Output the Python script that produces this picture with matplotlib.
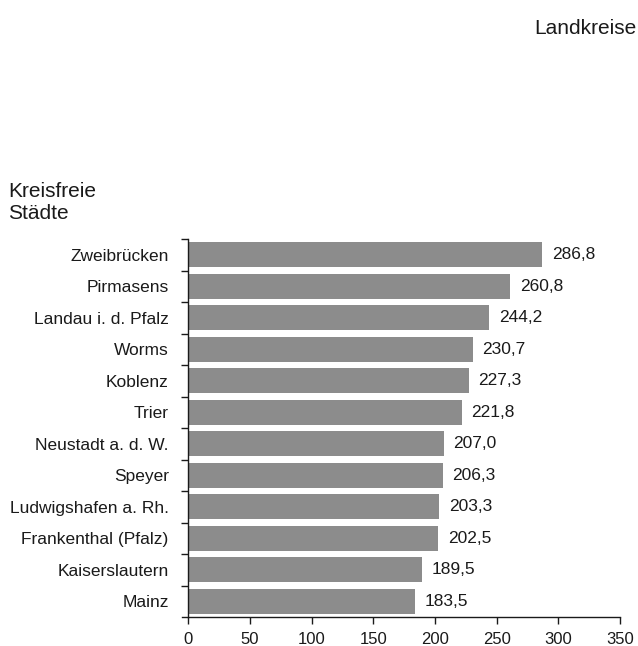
import matplotlib.pyplot as plt
import numpy as np
from matplotlib.ticker import FixedLocator

# Daten
staedte = ['Zweibrücken', 'Pirmasens', 'Landau i. d. Pfalz', 'Worms', 'Koblenz', 'Trier',
           'Neustadt a. d. W.', 'Speyer', 'Ludwigshafen a. Rh.', 'Frankenthal (Pfalz)',
           'Kaiserslautern', 'Mainz']
werte = [286.8, 260.8, 244.2, 230.7, 227.3, 221.8, 207.0, 206.3, 203.3, 202.5, 189.5, 183.5]
x_ticks = [0, 50, 100, 150, 200, 250, 300, 350]

BAR_COLOR = '#8c8c8c'
TEXT_COLOR = '#1a1a1a'

plt.rcParams['font.family'] = ['Liberation Sans', 'DejaVu Sans']

fig = plt.figure(figsize=(6.38, 6.46), dpi=100)
ax = fig.add_axes([182 / 638, 29 / 646, 438 / 638, 378 / 646])

n = len(staedte)
y = np.arange(n)[::-1]
ax.barh(y, werte, height=0.8, color=BAR_COLOR)

for yi, v in zip(y, werte):
    ax.annotate(f'{v:.1f}'.replace('.', ','), xy=(v, yi), xytext=(7, 0),
                textcoords='offset points', va='center', ha='left',
                fontsize=12.5, color=TEXT_COLOR)

ax.set_xlim(-5, 350)
ax.set_ylim(-0.5, n - 0.5)
ax.spines['left'].set_position(('data', 0))
ax.spines['top'].set_visible(False)
ax.spines['right'].set_visible(False)
for s in ('left', 'bottom'):
    ax.spines[s].set_linewidth(1.0)
    ax.spines[s].set_color(TEXT_COLOR)

ax.set_xticks(x_ticks)
ax.set_xticklabels([str(t) for t in x_ticks], fontsize=12, color=TEXT_COLOR)
ax.tick_params(axis='x', direction='out', length=5, width=1, pad=6, color=TEXT_COLOR)

ax.set_yticks(y)
ax.set_yticklabels(staedte, fontsize=12.5, color=TEXT_COLOR)
ax.yaxis.set_minor_locator(FixedLocator(np.arange(n) + 0.5))
ax.tick_params(axis='y', which='major', length=0, pad=14)
ax.tick_params(axis='y', which='minor', direction='out', length=5, width=1, color=TEXT_COLOR)

fig.text(636 / 638, 1 - 28 / 646, 'Landkreise', ha='right', va='center',
         fontsize=15, color=TEXT_COLOR)
fig.text(8 / 638, 1 - 202 / 646, 'Kreisfreie\nStädte', ha='left', va='center',
         fontsize=15, color=TEXT_COLOR, linespacing=1.2)

fig.savefig('out.png', dpi=100, facecolor='white')
